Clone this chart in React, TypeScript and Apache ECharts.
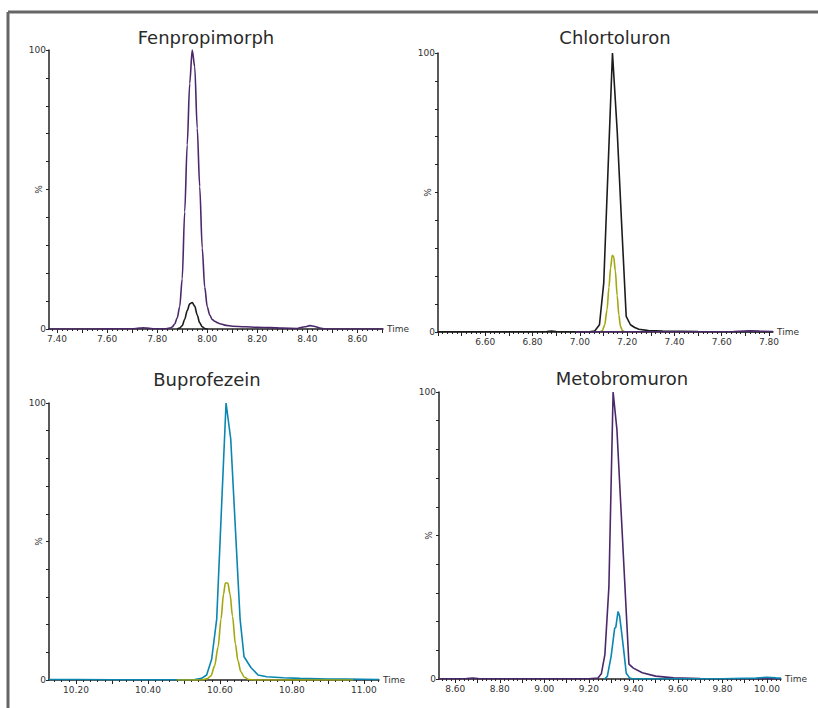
import React, { useEffect, useRef } from "react";
import * as echarts from "echarts";

const PURPLE = "#4b2869";
const BLACK = "#1c1c1c";
const OLIVE = "#a2a70e";
const TEAL = "#0a86b0";
const FONT = "DejaVu Sans";

const titles = ["Fenpropimorph", "Chlortoluron", "Buprofezein", "Metobromuron"];
const xRanges: [number, number][] = [
  [7.368, 8.702],
  [6.4, 7.817],
  [10.125, 11.042],
  [8.527, 10.063],
];
const xTickLabels: number[][] = [
  [7.4, 7.6, 7.8, 8.0, 8.2, 8.4, 8.6],
  [6.6, 6.8, 7.0, 7.2, 7.4, 7.6, 7.8],
  [10.2, 10.4, 10.6, 10.8, 11.0],
  [8.6, 8.8, 9.0, 9.2, 9.4, 9.6, 9.8, 10.0],
];
const yTickLabels = [0, 100];

// Fenpropimorph
const fenPurple: [number, number][] = [
  [7.368, 0], [7.5, 0], [7.6, 0.05], [7.7, 0.1], [7.73, 0.3], [7.745, 0.4], [7.76, 0.3], [7.79, 0.1],
  [7.83, 0.1], [7.85, 0.3], [7.86, 0.7], [7.87, 1.8], [7.88, 4], [7.89, 8], [7.9, 18], [7.91, 42],
  [7.92, 66], [7.93, 88], [7.94, 100], [7.95, 94], [7.96, 72], [7.97, 51], [7.98, 29], [7.99, 15],
  [8.0, 8], [8.01, 5], [8.02, 3.4], [8.03, 2.8], [8.04, 2.3], [8.05, 1.9], [8.075, 1.3], [8.1, 1.0],
  [8.15, 0.8], [8.2, 0.6], [8.25, 0.5], [8.3, 0.3], [8.36, 0.2], [8.39, 0.8], [8.41, 1.2], [8.43, 0.9],
  [8.45, 0.3], [8.47, 0], [8.702, 0],
];
const fenBlack: [number, number][] = [
  [7.88, 0], [7.89, 0.3], [7.9, 1.2], [7.91, 3.5], [7.92, 6.6], [7.93, 9.0], [7.94, 9.5], [7.95, 8.2],
  [7.96, 5], [7.97, 2.2], [7.98, 0.8], [7.99, 0.2], [8.0, 0],
];

// Chlortoluron
const chlBlack: [number, number][] = [
  [6.4, 0.1], [6.6, 0.1], [6.8, 0.1], [6.86, 0.2], [6.88, 0.3], [6.9, 0.2], [6.95, 0.1], [7.04, 0.1],
  [7.062, 0.3], [7.083, 2.6], [7.101, 17.5], [7.12, 60], [7.138, 100], [7.158, 72], [7.176, 40],
  [7.196, 5.6], [7.214, 2.6], [7.232, 1.6], [7.25, 1.0], [7.29, 0.5], [7.35, 0.3], [7.5, 0.2], [7.817, 0.1],
];
const chlOlive: [number, number][] = [
  [7.085, 0], [7.095, 0.5], [7.105, 2.5], [7.115, 8], [7.123, 16], [7.13, 23], [7.137, 27.5],
  [7.143, 27], [7.15, 22], [7.158, 13], [7.165, 6], [7.172, 2], [7.18, 0.5], [7.19, 0],
];
const chlPurple: [number, number][] = [
  [6.98, 0], [7.1, 0.1], [7.3, 0.1], [7.5, 0.1], [7.65, 0.2], [7.72, 0.4], [7.76, 0.3], [7.817, 0.2],
];

// Buprofezein
const bupTeal: [number, number][] = [
  [10.125, 0.2], [10.2, 0.2], [10.3, 0.1], [10.4, 0.1], [10.48, 0.1], [10.53, 0.2], [10.549, 0.6],
  [10.563, 1.8], [10.577, 7.5], [10.591, 22], [10.617, 100], [10.63, 87], [10.656, 22], [10.667, 8.4],
  [10.686, 4.5], [10.706, 1.8], [10.73, 1.2], [10.776, 0.8], [10.822, 0.6], [10.9, 0.3], [10.95, 0.3],
  [11.042, 0.2],
];
const bupOlive: [number, number][] = [
  [10.48, 0], [10.55, 0], [10.565, 0.5], [10.575, 1.5], [10.585, 5], [10.595, 12], [10.603, 22],
  [10.61, 31], [10.615, 35], [10.622, 35], [10.628, 31], [10.635, 23], [10.643, 13], [10.65, 7],
  [10.658, 3], [10.668, 1], [10.68, 0.2], [10.7, 0], [10.97, 0],
];

// Metobromuron
const metPurple: [number, number][] = [
  [8.527, 0.1], [8.6, 0.1], [8.65, 0.2], [8.68, 0.3], [8.71, 0.1], [8.8, 0.1], [9.0, 0.1], [9.2, 0.1],
  [9.24, 0.3], [9.256, 1.8], [9.272, 8.5], [9.29, 32], [9.309, 100], [9.326, 87], [9.38, 5.2],
  [9.4, 3.8], [9.44, 2.2], [9.5, 1.0], [9.58, 0.4], [9.7, 0.2], [9.9, 0.1], [10.063, 0.1],
];
const metTeal: [number, number][] = [
  [9.27, 0], [9.283, 0.9], [9.3, 7.9], [9.316, 17.7], [9.321, 18], [9.331, 23.5], [9.338, 22],
  [9.346, 17], [9.358, 9], [9.368, 2], [9.384, 0.3], [9.4, 0], [9.6, 0.1], [9.8, 0.1], [9.95, 0.3],
  [10.0, 0.6], [10.04, 0.4], [10.063, 0.3],
];

const panelSeries: { data: [number, number][]; color: string; smooth: boolean }[][] = [
  [
    { data: fenPurple, color: PURPLE, smooth: true },
    { data: fenBlack, color: BLACK, smooth: true },
  ],
  [
    { data: chlBlack, color: BLACK, smooth: false },
    { data: chlOlive, color: OLIVE, smooth: true },
    { data: chlPurple, color: PURPLE, smooth: false },
  ],
  [
    { data: bupTeal, color: TEAL, smooth: false },
    { data: bupOlive, color: OLIVE, smooth: true },
  ],
  [
    { data: metPurple, color: PURPLE, smooth: false },
    { data: metTeal, color: TEAL, smooth: false },
  ],
];

const gridRects = [
  [49, 50, 334, 279],
  [438, 53, 335, 279],
  [49, 403, 330, 277],
  [439, 392, 342, 287],
];
const titlePos = [
  [206, 28],
  [615, 28],
  [207, 370],
  [622, 369],
];

function stepValues(min: number, max: number, step: number): number[] {
  const out: number[] = [];
  const start = Math.ceil(min / step - 1e-9);
  const end = Math.floor(max / step + 1e-9);
  for (let i = start; i <= end; i++) out.push(Math.round(i * step * 1000) / 1000);
  return out;
}

export default function App() {
  const ref = useRef<HTMLDivElement>(null);
  useEffect(() => {
    if (!ref.current) return;
    const chart = echarts.init(ref.current, undefined, { renderer: "svg" });
    const grid: any[] = [];
    const xAxis: any[] = [];
    const yAxis: any[] = [];
    const series: any[] = [];
    const title: any[] = [];
    for (let i = 0; i < 4; i++) {
      const [l, t, w, h] = gridRects[i];
      grid.push({ left: l, top: t, width: w, height: h, containLabel: false });
      const [mn, mx] = xRanges[i];
      title.push({
        text: titles[i],
        left: titlePos[i][0],
        top: titlePos[i][1],
        textAlign: "center",
        padding: 0,
        textStyle: { fontFamily: FONT, fontSize: 18, fontWeight: "normal", color: "#2a2a2a" },
      });
      xAxis.push({
        type: "value",
        gridIndex: i,
        min: mn,
        max: mx,
        position: "bottom",
        name: "Time",
        nameLocation: "end",
        nameGap: 4,
        nameMoveOverlap: false,
        nameTextStyle: { fontFamily: FONT, fontSize: 9, color: "#333", verticalAlign: "middle" },
        axisLine: { show: true, onZero: false, lineStyle: { color: "#222", width: 1.5 } },
        axisTick: {
          show: true,
          inside: false,
          length: 4,
          customValues: stepValues(mn, mx, 0.1),
          lineStyle: { color: "#222", width: 1 },
        },
        axisLabel: {
          show: true,
          customValues: xTickLabels[i],
          formatter: (v: number) => v.toFixed(2),
          fontFamily: FONT,
          fontSize: 9,
          color: "#333",
          margin: 5,
        },
        splitLine: { show: false },
      });
      xAxis.push({
        type: "value",
        gridIndex: i,
        min: mn,
        max: mx,
        position: "bottom",
        axisLine: { show: false },
        axisTick: {
          show: true,
          length: 2,
          customValues: stepValues(mn, mx, 0.02),
          lineStyle: { color: "#222", width: 1 },
        },
        axisLabel: { show: false },
        splitLine: { show: false },
      });
      yAxis.push({
        type: "value",
        gridIndex: i,
        min: 0,
        max: 100,
        interval: 10,
        name: "%",
        nameLocation: "middle",
        nameRotate: 90,
        nameGap: 6,
        nameMoveOverlap: false,
        nameTextStyle: { fontFamily: FONT, fontSize: 9, color: "#333" },
        axisLine: { show: true, lineStyle: { color: "#222", width: 1.5 } },
        axisTick: { show: true, length: 3, lineStyle: { color: "#222", width: 1 } },
        axisLabel: {
          show: true,
          formatter: (v: number) => (yTickLabels.indexOf(v) >= 0 ? String(v) : ""),
          fontFamily: FONT,
          fontSize: 9,
          color: "#333",
          margin: 3,
        },
        splitLine: { show: false },
      });
      for (const s of panelSeries[i]) {
        series.push({
          type: "line",
          xAxisIndex: 2 * i,
          yAxisIndex: i,
          data: s.data,
          smooth: s.smooth ? 0.3 : false,
          smoothMonotone: "x",
          showSymbol: false,
          symbol: "none",
          lineStyle: { color: s.color, width: 1.6 },
          itemStyle: { color: s.color },
          z: 3,
        });
      }
    }
    chart.setOption({
      animation: false,
      backgroundColor: "#ffffff",
      title,
      grid,
      xAxis,
      yAxis,
      series,
      graphic: [
        { type: "line", shape: { x1: 8, y1: 12, x2: 818, y2: 12 }, style: { stroke: "#666", lineWidth: 3 } },
        { type: "line", shape: { x1: 8, y1: 12, x2: 8, y2: 708 }, style: { stroke: "#666", lineWidth: 3 } },
      ],
    });
    return () => chart.dispose();
  }, []);
  return (
    <div
      ref={ref}
      style={{ position: "absolute", left: 0, top: 0, width: 818, height: 708 }}
    />
  );
}
